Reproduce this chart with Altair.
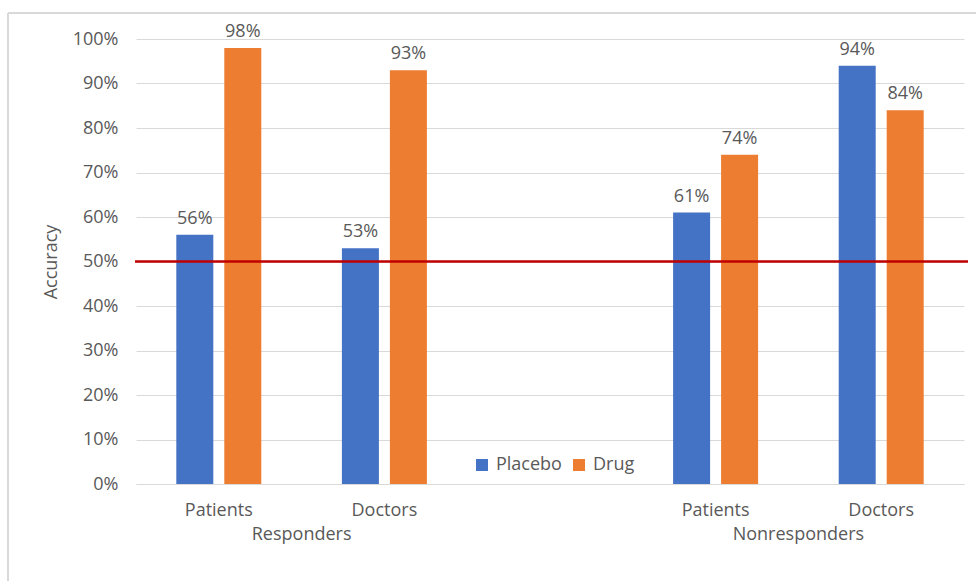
import altair as alt
import pandas as pd

groups = ["Responders", "Responders", "Nonresponders", "Nonresponders"]
roles = ["Patients", "Doctors", "Patients", "Doctors"]
placebo = [0.56, 0.53, 0.61, 0.94]
drug = [0.98, 0.93, 0.74, 0.84]
series = ["Placebo", "Drug"]
colors = ["#4472C4", "#ED7D31"]
y_ticks = [0, 0.1, 0.2, 0.3, 0.4, 0.5, 0.6, 0.7, 0.8, 0.9, 1.0]
group_labels = ["Responders", "Nonresponders"]
group_anchor = ["Responders|Doctors", "Nonresponders|Doctors"]
reference = [0.5]

rows = []
for g, r, p, d in zip(groups, roles, placebo, drug):
    rows.append({"key": f"{g}|{r}", "series": "Placebo", "value": p})
    rows.append({"key": f"{g}|{r}", "series": "Drug", "value": d})
df = pd.DataFrame(rows)

domain = ["Responders|Patients", "Responders|Doctors", "gap",
          "Nonresponders|Patients", "Nonresponders|Doctors"]

FONT = "Open Sans"
GRAY = "#595959"
FS = 18
W, H = 828, 445

x_axis = alt.Axis(title=None, labelExpr="datum.value == 'gap' ? '' : split(datum.value, '|')[1]",
                  ticks=False, domain=True, domainColor="#d9d9d9", labelPadding=17,
                  labelFontSize=FS, labelColor=GRAY, labelFont=FONT, grid=False, labelAngle=0)
x_scale = alt.Scale(domain=domain, paddingInner=0, paddingOuter=0)
xo_scale = alt.Scale(domain=series, paddingInner=0.229, paddingOuter=0.84)

base = alt.Chart(df)

bars = base.mark_bar().encode(
    x=alt.X("key:N", scale=x_scale, axis=x_axis, sort=domain),
    xOffset=alt.XOffset("series:N", scale=xo_scale, sort=series),
    y=alt.Y("value:Q", scale=alt.Scale(domain=[0, 1]),
            axis=alt.Axis(format=".0%", values=y_ticks, title="Accuracy", grid=True,
                          gridColor="#d9d9d9", domain=False, ticks=False,
                          labelPadding=18, labelFontSize=FS, labelColor=GRAY, labelFont=FONT,
                          titleFontSize=FS, titleColor=GRAY, titleFont=FONT,
                          titleFontWeight="normal", titlePadding=12)),
    color=alt.Color("series:N", scale=alt.Scale(domain=series, range=colors),
                    legend=alt.Legend(title=None, orient="none", direction="horizontal",
                                      legendX=337, legendY=417, symbolType="square",
                                      symbolSize=144, symbolStrokeWidth=0,
                                      labelFontSize=FS, labelColor=GRAY, labelFont=FONT,
                                      columnPadding=8, labelOffset=5)),
)

labels = base.mark_text(baseline="bottom", dy=-7, fontSize=FS, color=GRAY, font=FONT).encode(
    x=alt.X("key:N", scale=x_scale, axis=x_axis, sort=domain),
    xOffset=alt.XOffset("series:N", scale=xo_scale, sort=series),
    y=alt.Y("value:Q"),
    text=alt.Text("value:Q", format=".0%"),
)

gdf = pd.DataFrame({"key": group_anchor, "group": group_labels})
glabels = alt.Chart(gdf).mark_text(fontSize=FS, color=GRAY, font=FONT, baseline="middle").encode(
    x=alt.X("key:N", scale=x_scale, axis=x_axis, sort=domain, bandPosition=0),
    y=alt.value(H + 51),
    text="group:N",
)

ref = alt.Chart(pd.DataFrame({"v": reference})).mark_rule(color="#C00000", strokeWidth=2.5).encode(
    y=alt.Y("v:Q"),
    x=alt.value(-1),
    x2=alt.value(W + 4),
)

frame_left = alt.Chart(pd.DataFrame({"a": [0]})).mark_rule(color="#d9d9d9", strokeWidth=2).encode(
    x=alt.value(-128), y=alt.value(-26), y2=alt.value(H + 120))
frame_top = alt.Chart(pd.DataFrame({"a": [0]})).mark_rule(color="#d9d9d9", strokeWidth=2).encode(
    y=alt.value(-26), x=alt.value(-128), x2=alt.value(W + 60))

chart = alt.layer(frame_left, frame_top, bars, labels, glabels, ref).properties(
    width=W, height=H,
    autosize=alt.AutoSizeParams(type="none"),
    padding={"left": 136, "top": 39, "right": 12, "bottom": 97},
    background="white",
).configure_view(stroke=None)

chart.save("out.html", embed_options={"renderer": "svg", "actions": False})
